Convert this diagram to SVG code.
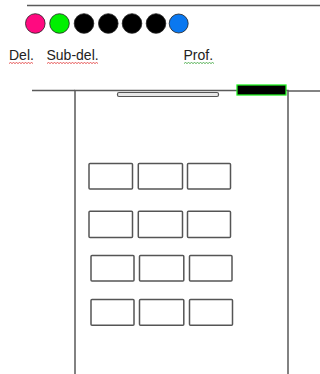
<svg xmlns="http://www.w3.org/2000/svg" width="320" height="374" viewBox="0 0 320 374">
<style>
.ln{stroke:#5a5a5a;stroke-width:1.5;fill:none}
.seat{fill:#fff;stroke:#555;stroke-width:1.5}
.dot{stroke:#222;stroke-width:0.8}
.lbl{font-family:"Liberation Sans",Arial,sans-serif;font-size:14px;fill:#222}
.sq{fill:none;stroke-width:0.8}
</style>
<rect width="320" height="374" fill="#fff"/>
<g id="connectors">
<line class="ln" x1="27" y1="5.5" x2="320" y2="5.5"/>
<line class="ln" x1="32" y1="90.5" x2="75" y2="90.5"/>
<line class="ln" x1="288" y1="91" x2="320" y2="91"/>
</g>
<g id="dots">
<circle class="dot" cx="35.3" cy="23.5" r="9.8" fill="#ff0a80" stroke="#ff0a80"/>
<circle class="dot" cx="59.5" cy="23.5" r="9.8" fill="#00f000" stroke="#00f000"/>
<circle class="dot" cx="84" cy="23.5" r="9.8" fill="#000"/>
<circle class="dot" cx="108.3" cy="23.5" r="9.8" fill="#000"/>
<circle class="dot" cx="132" cy="23.5" r="9.8" fill="#000"/>
<circle class="dot" cx="156" cy="23.5" r="9.8" fill="#000"/>
<circle class="dot" cx="178.7" cy="23.5" r="9.5" fill="#0a78f0" stroke="#1a2a40"/>
</g>
<g id="labels">
<text class="lbl" x="9" y="59.5">Del.</text>
<text class="lbl" x="46.5" y="59.5">Sub-del.</text>
<text class="lbl" x="183.5" y="59.5">Prof.</text>
<path class="sq" stroke="#e03030" d="M9 63.5 l1.5 -1 l1.5 1 l1.5 -1 l1.5 1 l1.5 -1 l1.5 1 l1.5 -1 l1.5 1 l1.5 -1 l1.5 1 l1.5 -1 l1.5 1 l1.5 -1 l1.5 1 l1.5 -1 l1.5 1"/>
<path class="sq" stroke="#e03030" d="M47 63.5 l1.5 -1 l1.5 1 l1.5 -1 l1.5 1 l1.5 -1 l1.5 1 l1.5 -1 l1.5 1 l1.5 -1 l1.5 1 l1.5 -1 l1.5 1 l1.5 -1 l1.5 1 l1.5 -1 l1.5 1 l1.5 -1 l1.5 1 l1.5 -1 l1.5 1 l1.5 -1 l1.5 1 l1.5 -1 l1.5 1 l1.5 -1 l1.5 1 l1.5 -1 l1.5 1 l1.5 -1 l1.5 1 l1.5 -1 l1.5 1 l1.5 -1 l1.5 1"/>
<path class="sq" stroke="#30a030" d="M184 63.5 l1.5 -1 l1.5 1 l1.5 -1 l1.5 1 l1.5 -1 l1.5 1 l1.5 -1 l1.5 1 l1.5 -1 l1.5 1 l1.5 -1 l1.5 1 l1.5 -1 l1.5 1 l1.5 -1 l1.5 1 l1.5 -1 l1.5 1 l1.5 -1 l1.5 1"/>
</g>
<g id="room">
<path class="ln" d="M75 374 V90.5 H288 V374"/>
</g>
<g id="board">
<rect x="117.5" y="92.5" width="101" height="4" rx="1.5" fill="#e8e8e8" stroke="#555" stroke-width="1.2"/>
</g>
<g id="desk">
<rect x="237" y="85" width="49" height="10" fill="#000" stroke="#22ee22" stroke-width="1.3"/>
</g>
<g id="seats">
<rect class="seat" x="89" y="163.5" width="43.5" height="25.5" rx="1"/>
<rect class="seat" x="138.3" y="163.5" width="44.2" height="25.5" rx="1"/>
<rect class="seat" x="187.5" y="163.5" width="43" height="25.5" rx="1"/>
<rect class="seat" x="89" y="211.3" width="43.5" height="26.2" rx="1"/>
<rect class="seat" x="138.3" y="211.3" width="44.2" height="26.2" rx="1"/>
<rect class="seat" x="187.5" y="211.3" width="43" height="26.2" rx="1"/>
<rect class="seat" x="91" y="255.5" width="43" height="25.5" rx="1"/>
<rect class="seat" x="139.5" y="255.5" width="44.3" height="25.5" rx="1"/>
<rect class="seat" x="189.5" y="255.5" width="42.5" height="25.5" rx="1"/>
<rect class="seat" x="91" y="299.5" width="43" height="25.8" rx="1"/>
<rect class="seat" x="139.5" y="299.5" width="44.3" height="25.8" rx="1"/>
<rect class="seat" x="189.5" y="299.5" width="43" height="25.8" rx="1"/>
</g>
</svg>
